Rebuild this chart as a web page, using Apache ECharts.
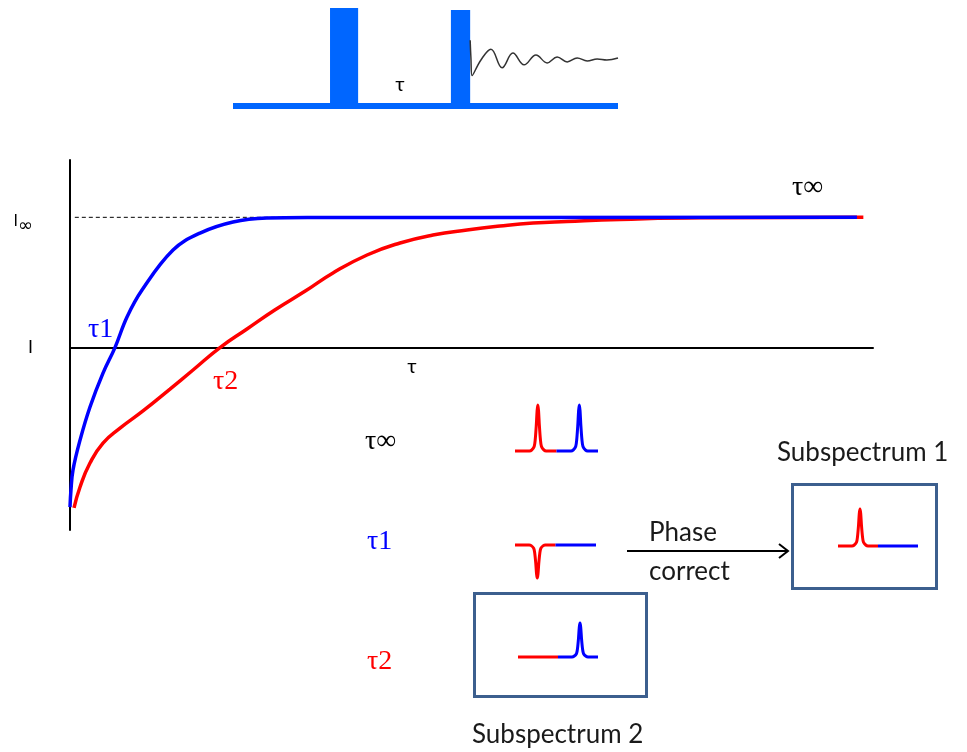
<!DOCTYPE html>
<html>
<head>
<meta charset="utf-8">
<script src="https://cdn.jsdelivr.net/npm/echarts@6/dist/echarts.min.js"></script>
<style>html,body{margin:0;padding:0;background:#fff}#c{width:967px;height:752px}</style>
</head>
<body>
<div id="c"></div>
<script>
// ---- Main relaxation curves (tau in arbitrary units, intensity in units of I_inf) ----
const blueT = [0, 0.12, 0.37, 1.25, 2.49, 4.11, 5.6, 7.1, 8.97, 12.83, 16.19, 20.3, 24.5, 29.9, 98.0];
const blueI = [-1.224, -1.093, -0.94, -0.71, -0.456, -0.196, 0.0, 0.235, 0.442, 0.749, 0.879, 0.964, 0.994, 0.998, 1.0];
const redT = [0.5, 1.25, 2.49, 4.11, 6.23, 9.09, 12.45, 15.32, 18.68, 22.04, 25.5, 29.3, 32.75, 36.99, 41.1, 45.2, 49.44, 53.55, 57.66, 61.9, 68.5, 78.5, 98.8];
const redI = [-1.231, -1.07, -0.886, -0.733, -0.618, -0.486, -0.318, -0.172, 0.0, 0.143, 0.289, 0.434, 0.573, 0.711, 0.803, 0.864, 0.903, 0.933, 0.956, 0.968, 0.983, 0.996, 1.0];
const asymT = [0.6, 29.9];
const asymI = [1, 1];
const yTickLabels = { '1': '{a|I}{b|∞}', '0': '{c|I}' };

// ---- Pulse sequence (time in arbitrary units, amplitude 0..1) ----
const baseT = [0, 100];
const baseA = [0, 0];
const pulseStart = [25.2, 56.6];
const pulseEnd = [32.5, 61.6];
const pulseAmp = [1.0, 0.98];
const fidT = [61.6, 61.8, 62.1, 64.4, 67.0, 69.9, 72.7, 75.6, 78.7, 81.6, 84.2, 86.8, 89.4, 92.0, 94.6, 97.1, 100];
const fidA = [0.67, 0.49, 0.31, 0.47, 0.58, 0.39, 0.54, 0.42, 0.52, 0.44, 0.50, 0.45, 0.49, 0.46, 0.48, 0.47, 0.49];

// ---- Spectra: one line shape per half, amplitudes per spectrum ----
const halfX = [0, 14, 16, 18.5, 19.5, 20.5, 21.3, 22, 22.7, 23.5, 24.5, 25.5, 28, 30, 40];
const halfY = [0, 0, 0.02, 0.1, 0.25, 0.55, 0.88, 1, 0.88, 0.55, 0.25, 0.1, 0.02, 0, 0];
const specNames = ['τ∞', 'τ1', 'Subspectrum 2', 'Subspectrum 1'];
const specRedAmp = [0.92, -0.66, 0, 0.74];
const specBlueAmp = [0.92, 0, 0.68, 0];

const specLayout = [
  { left: 515, base: 451, width: 83 },
  { left: 515, base: 545, width: 81 },
  { left: 518, base: 657, width: 80 },
  { left: 838, base: 546, width: 80 }
];

const RED = '#ff0000', BLUE = '#0000ff', PULSE = '#0066ff', BOX = '#3c5f8e';

const grids = [
  { left: 70, top: 160, width: 803, height: 370 },
  { left: 233, top: 8, width: 385, height: 98 }
];
const xAxes = [
  { type: 'value', gridIndex: 0, min: 0, max: 100,
    axisLine: { show: true, onZero: true, lineStyle: { color: '#000', width: 2 } },
    axisTick: { show: false }, axisLabel: { show: false }, splitLine: { show: false } },
  { type: 'value', gridIndex: 1, min: 0, max: 100, show: false }
];
const yAxes = [
  { type: 'value', gridIndex: 0, min: -1.4, max: 1.44, interval: 0.2,
    axisLine: { show: true, onZero: false, lineStyle: { color: '#000', width: 2 } },
    axisTick: { show: false }, splitLine: { show: false },
    axisLabel: {
      show: true, margin: 37, color: '#000',
      formatter: function (v) {
        const k = Math.round(v * 100) / 100;
        if (Math.abs(k - 1) < 1e-6) return yTickLabels['1'];
        if (Math.abs(k) < 1e-6) return yTickLabels['0'];
        return '';
      },
      rich: {
        a: { fontFamily: 'Liberation Sans', fontSize: 16, color: '#000', padding: [8, 0, 0, 0] },
        b: { fontFamily: 'DejaVu Sans', fontSize: 18, color: '#000', padding: [18, 0, 0, 0] },
        c: { fontFamily: 'Liberation Sans', fontSize: 18, color: '#000' }
      }
    } },
  { type: 'value', gridIndex: 1, min: 0, max: 1, show: false }
];

const series = [
  { type: 'line', xAxisIndex: 0, yAxisIndex: 0, data: asymT.map((t, i) => [t, asymI[i]]),
    symbol: 'none', lineStyle: { color: '#000', width: 1, type: [4, 3] }, z: 1 },
  { type: 'line', xAxisIndex: 0, yAxisIndex: 0, data: redT.map((t, i) => [t, redI[i]]),
    symbol: 'none', smooth: 0.5, lineStyle: { color: RED, width: 3.5 }, z: 2 },
  { type: 'line', xAxisIndex: 0, yAxisIndex: 0, data: blueT.map((t, i) => [t, blueI[i]]),
    symbol: 'none', smooth: 0.4, lineStyle: { color: BLUE, width: 3.5 }, z: 3 },
  { type: 'line', xAxisIndex: 1, yAxisIndex: 1, data: baseT.map((t, i) => [t, baseA[i]]),
    symbol: 'none', lineStyle: { color: PULSE, width: 6 }, z: 2 },
  { type: 'custom', xAxisIndex: 1, yAxisIndex: 1,
    data: pulseStart.map((s, i) => [s, pulseEnd[i], pulseAmp[i]]),
    encode: { x: [0, 1], y: 2 },
    renderItem: function (params, api) {
      const p0 = api.coord([api.value(0), 0]);
      const p1 = api.coord([api.value(1), api.value(2)]);
      return { type: 'rect', shape: { x: p0[0], y: p1[1], width: p1[0] - p0[0], height: p0[1] - p1[1] + 3 },
               style: { fill: PULSE } };
    }, z: 3 },
  { type: 'line', xAxisIndex: 1, yAxisIndex: 1, data: fidT.map((t, i) => [t, fidA[i]]),
    symbol: 'none', smooth: 0.4, lineStyle: { color: '#333', width: 1.5 }, z: 4 }
];

specLayout.forEach((L, i) => {
  const gi = grids.length;
  grids.push({ left: L.left, top: L.base - 50, width: L.width, height: 100 });
  xAxes.push({ type: 'value', gridIndex: gi, min: 0, max: 80, show: false });
  yAxes.push({ type: 'value', gridIndex: gi, min: -1, max: 1, show: false });
  series.push({ type: 'line', name: specNames[i] + ' red', xAxisIndex: gi, yAxisIndex: gi,
    data: halfX.map((x, k) => [x, specRedAmp[i] * halfY[k]]), symbol: 'none', smooth: 0.3,
    lineStyle: { color: RED, width: 3 }, clip: false });
  series.push({ type: 'line', name: specNames[i] + ' blue', xAxisIndex: gi, yAxisIndex: gi,
    data: halfX.map((x, k) => [40 + x, specBlueAmp[i] * halfY[k]]), symbol: 'none', smooth: 0.3,
    lineStyle: { color: BLUE, width: 3 }, clip: false });
});

const sans = 'Lato';
const serif = 'Liberation Serif';
function txt(x, y, text, font, fill, align) {
  return { type: 'text', x: x, y: y, style: { text: text, font: font, fill: fill,
    textAlign: align || 'left', textVerticalAlign: 'middle' }, z: 10 };
}
const graphic = [
  { type: 'rect', shape: { x: 792.5, y: 484.5, width: 144, height: 104 },
    style: { fill: 'none', stroke: BOX, lineWidth: 3 }, z: 5 },
  { type: 'rect', shape: { x: 474.5, y: 593.5, width: 172, height: 103 },
    style: { fill: 'none', stroke: BOX, lineWidth: 3 }, z: 5 },
  { type: 'line', shape: { x1: 627, y1: 551, x2: 788, y2: 551 },
    style: { stroke: '#000', lineWidth: 2 }, z: 5 },
  { type: 'polyline', shape: { points: [[779, 544], [788, 551], [779, 558]] },
    style: { stroke: '#000', lineWidth: 2, fill: 'none' }, z: 5 },
  txt(777, 453, 'Subspectrum 1', '26px ' + sans, '#1a1a1a'),
  txt(472, 735, 'Subspectrum 2', '26px ' + sans, '#1a1a1a'),
  txt(649, 533, 'Phase', '26px ' + sans, '#1a1a1a'),
  txt(649, 572, 'correct', '26px ' + sans, '#1a1a1a'),
  txt(365, 442, 'τ∞', '28px ' + serif, '#000'),
  txt(367, 542, 'τ1', '28px ' + serif, BLUE),
  txt(367, 662, 'τ2', '28px ' + serif, RED),
  txt(88, 330, 'τ1', '28px ' + serif, BLUE),
  txt(213, 382, 'τ2', '28px ' + serif, RED),
  txt(412, 367, 'τ', '20px ' + sans, '#000', 'center'),
  txt(400, 85, 'τ', '20px ' + sans, '#000', 'center'),
  txt(792, 188, 'τ∞', '28px ' + serif, '#000')
];

const chart = echarts.init(document.getElementById('c'), null, { renderer: 'canvas' });
chart.setOption({ animation: false, backgroundColor: '#fff', grid: grids, xAxis: xAxes, yAxis: yAxes, series: series, graphic: graphic });
</script>
</body>
</html>
